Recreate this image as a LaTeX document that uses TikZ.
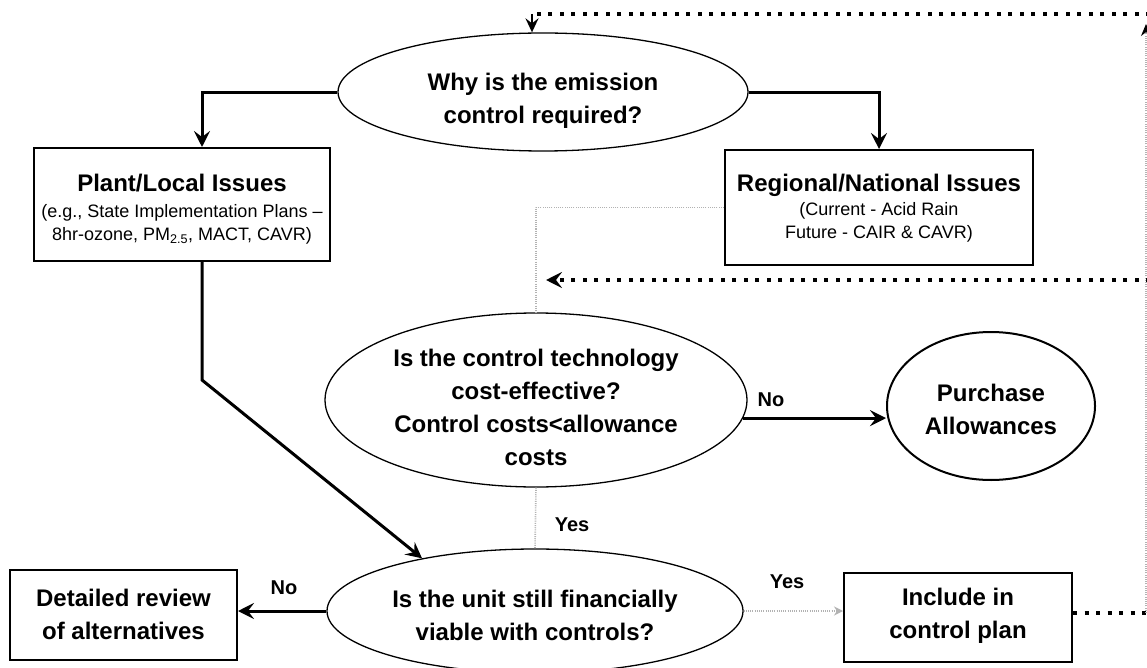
\documentclass[tikz,border=0pt]{standalone}
\usepackage{fontspec}
\setmainfont{Liberation Sans}
\usetikzlibrary{arrows.meta,shapes.geometric}
\begin{document}
\begin{tikzpicture}[x=1pt,y=-1pt,
  bt/.style={font=\bfseries\fontsize{24}{33}\selectfont, align=center, inner sep=0pt},
  ell/.style={ellipse, draw, line width=1.3pt, inner sep=0pt},
  boxn/.style={draw, line width=2pt, inner sep=0pt, align=center},
  thk/.style={line width=3pt, -{Stealth[length=16pt,width=16pt,inset=6pt]}},
  dotl/.style={line width=4pt, dash pattern=on 4pt off 7.5pt},
  faint/.style={black!30, line width=1.6pt, dash pattern=on 1pt off 1.2pt},
  lbl/.style={font=\bfseries\fontsize{20}{24}\selectfont, inner sep=0pt},
  small/.style={font=\fontsize{18}{23}\selectfont}
]
\fill[white] (0,0) rectangle (1147,668);
\useasboundingbox (0,0) rectangle (1147,668);

% ellipses
\node[ell, minimum width=410pt, minimum height=118pt] (why) at (543,92) {};
\node[bt] (whyt) at (543,101) {Why is the emission\\control required?};

\node[ell, minimum width=422pt, minimum height=174pt] (cost) at (536,400) {};
\node[bt] (costt) at (536,407) {Is the control technology\\cost-effective?\\Control costs<allowance\\costs};

\node[ell, line width=2pt, minimum width=208pt, minimum height=148pt] (purch) at (991,406) {};
\node[bt] (purcht) at (991,409) {Purchase\\Allowances};

\node[ell, minimum width=416pt, minimum height=124pt] (fin) at (535,611) {};
\node[bt] (fint) at (535,615) {Is the unit still financially\\viable with controls?};

% boxes
\node[boxn, minimum width=296pt, minimum height=113pt] (plant) at (182,204.5) {};
\node[bt] (plantt) at (182,183) {Plant/Local Issues};
\node[small, align=center, inner sep=0pt] (plants) at (182,224) {(e.g., State Implementation Plans –\\8hr-ozone, PM\textsubscript{2.5}, MACT, CAVR)};

\node[boxn, minimum width=308pt, minimum height=115pt] (reg) at (879,207.5) {};
\node[bt] (regt) at (879,185) {Regional/National Issues};
\node[small, align=center, inner sep=0pt] (regs) at (879,222) {(Current - Acid Rain\\Future - CAIR \& CAVR)};

\node[boxn, minimum width=227pt, minimum height=90pt] (det) at (123.5,615) {};
\node[bt] (dett) at (123.5,614) {Detailed review\\of alternatives};

\node[boxn, minimum width=228pt, minimum height=89pt] (inc) at (958,617.5) {};
\node[bt] (inct) at (958,616) {Include in\\control plan};

% solid connectors
\draw[thk] (why.west |- 0,93) -| ([xshift=20pt]plant.north);
\draw[thk] (why.east |- 0,93) -| (reg.north);
\coordinate (bend) at (202,380);
\draw[thk] ([xshift=20pt]plant.south) -- (bend) -- (fin.155);
\draw[thk] (cost.-5) -- (purch.west |- cost.-5);
\draw[thk] (fin.west) -- (fin.west -| det.east);

\node[lbl] (no1) at (771,400) {No};
\node[lbl] (no2) at (284,588) {No};
\node[lbl] (yes1) at (572,525) {Yes};
\node[lbl] (yes2) at (787,582) {Yes};

% faint connectors
\draw[faint] (reg.west) -| (cost.north);
\draw[faint] (cost.south) -- (fin.north);
\draw[faint, -{Stealth[length=9pt,width=9pt]}] (fin.east) -- (fin.east -| inc.west);

% dotted feedback loop
\coordinate (rb) at (1146,613);
\coordinate (rt) at (1146,24);
\coordinate (tr) at (1150,14);
\coordinate (tl) at (532,14);
\coordinate (mr) at (1150,280);
\coordinate (ma) at (546,280);
\draw[dotl] (inc.east |- rb) -- (rb);
\draw[faint, -{Stealth[length=12pt,width=10pt,color=black]}] (rb) -- (rt);
\draw[dotl] (tr) -- (tl);
\draw[line width=2.5pt, -{Stealth[length=14pt,width=13pt,inset=5pt]}] (tl) -- (tl |- why.north);
\draw[dotl, -{Stealth[length=16pt,width=16pt,inset=6pt]}] (mr) -- (ma);
\end{tikzpicture}
\end{document}
